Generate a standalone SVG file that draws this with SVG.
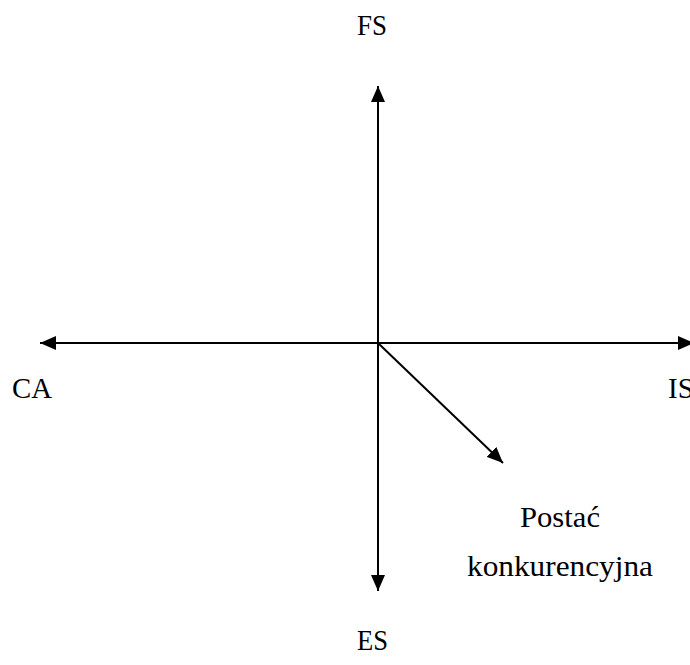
<svg xmlns="http://www.w3.org/2000/svg" width="690" height="665" viewBox="0 0 690 665">
  <style>
    .lbl { font-family: 'Liberation Serif', 'DejaVu Serif', serif; font-size: 29px; fill: #000; }
    .axis { stroke: #000; stroke-width: 2; fill: none; }
  </style>
  <defs>
    <marker id="head" markerUnits="userSpaceOnUse" markerWidth="16" markerHeight="14" viewBox="0 0 16 14" refX="16" refY="7" orient="auto">
      <path d="M0,0 L16,7 L0,14 Z" fill="#000"/>
    </marker>
  </defs>
  <rect width="690" height="665" fill="#fff"/>

  <g id="connectors">
    <line class="axis" x1="378" y1="343" x2="378" y2="86" marker-end="url(#head)"/>
    <line class="axis" x1="378" y1="343" x2="378" y2="591" marker-end="url(#head)"/>
    <line class="axis" x1="378" y1="343" x2="40" y2="343" marker-end="url(#head)"/>
    <line class="axis" x1="378" y1="343" x2="694" y2="343" marker-end="url(#head)"/>
    <line class="axis" x1="378" y1="343" x2="503" y2="463" marker-end="url(#head)"/>
  </g>

  <g id="FS"><text class="lbl" x="357" y="35" textLength="30" lengthAdjust="spacingAndGlyphs">FS</text></g>
  <g id="CA"><text class="lbl" x="12" y="398" textLength="40" lengthAdjust="spacingAndGlyphs">CA</text></g>
  <g id="IS"><text class="lbl" x="668" y="398">IS</text></g>
  <g id="ES"><text class="lbl" x="357" y="650" textLength="31" lengthAdjust="spacingAndGlyphs">ES</text></g>
  <g id="postac">
    <text class="lbl" x="520" y="527" textLength="80" lengthAdjust="spacingAndGlyphs">Postać</text>
    <text class="lbl" x="467" y="576" textLength="186" lengthAdjust="spacingAndGlyphs">konkurencyjna</text>
  </g>
</svg>
